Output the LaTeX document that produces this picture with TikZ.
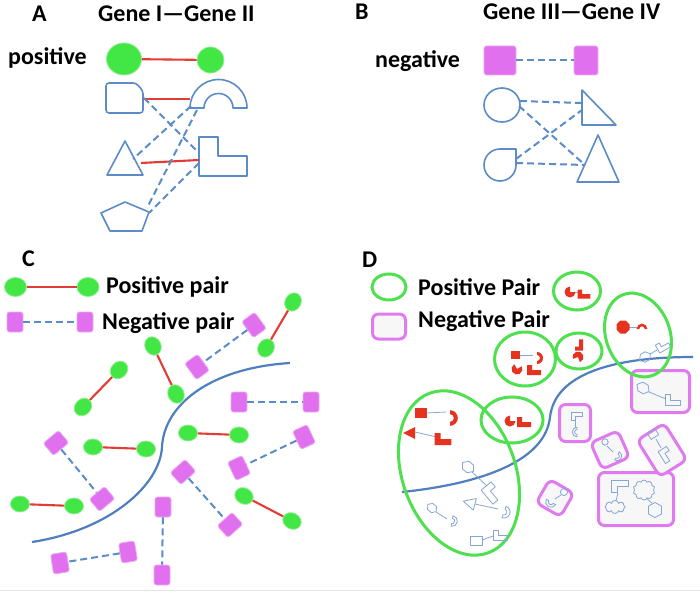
\documentclass[tikz,border=0pt]{standalone}
\usepackage{fontspec}
\setmainfont{Carlito}
\usetikzlibrary{shapes.geometric,shapes.symbols}
\definecolor{bluec}{HTML}{5B8CC8}
\definecolor{curvec}{HTML}{4F7FBF}
\definecolor{redc}{HTML}{E33B36}
\definecolor{greenf}{HTML}{42E645}
\definecolor{greend}{HTML}{4FE04F}
\definecolor{magf}{HTML}{E070EE}
\definecolor{magd}{HTML}{E07BEF}
\definecolor{redf}{HTML}{E53320}
\definecolor{minib}{HTML}{86A6D4}
\tikzset{
  lbl/.style={font=\bfseries\fontsize{24}{28}\selectfont, inner sep=0, anchor=base west},
  gcirc/.style={ellipse, fill=greenf, draw=greenf!60!white, line width=0.8, inner sep=0},
  gpt/.style={gcirc, minimum width=19, minimum height=16},
  mbox/.style={rectangle, rounded corners=2.5, fill=magf, draw=magf!60!white, line width=0.8, inner sep=0},
  mpt/.style={mbox, minimum width=16, minimum height=20},
  redline/.style={draw=redc, line width=2.1},
  negline/.style={draw=bluec, line width=2.0, dash pattern=on 7 off 4},
  outl/.style={draw=bluec, line width=1.6, line join=round},
  sepcurve/.style={draw=curvec, line width=2.2},
  gring/.style={ellipse, draw=greend, line width=3, inner sep=0},
  mring/.style={rectangle, rounded corners=6, draw=magd, line width=3, fill=black!3, inner sep=0},
  redshape/.style={fill=redf},
  blueshape/.style={draw=minib, line width=0.8, line join=round},
  thinlink/.style={draw=minib, line width=0.8},
  bcloud/.style={cloud, cloud puffs=10, draw=minib, line width=0.8, inner sep=0},
  msq/.pic={\path[pic actions] (-5,-4) rectangle (5,4);},
  mL/.pic={\path[pic actions] (-7,-5) -- (-2,-5) -- (-2,0) -- (7,0) -- (7,5) -- (-7,5) -- cycle;},
  mdisc/.pic={\path[pic actions] (0,0) -- (5.5,0) arc[start angle=0,end angle=270,radius=5.5] -- cycle;},
  march/.pic={\path[pic actions] (-6,0) arc[start angle=180,end angle=360,radius=6] -- (3,0) arc[start angle=360,end angle=180,radius=3] -- cycle;},
  mtri/.pic={\path[pic actions] (-7,0) -- (5,-6) -- (5,6) -- cycle;},
  moct/.pic={\path[pic actions] (6.5,2.7) -- (2.7,6.5) -- (-2.7,6.5) -- (-6.5,2.7) -- (-6.5,-2.7) -- (-2.7,-6.5) -- (2.7,-6.5) -- (6.5,-2.7) -- cycle;},
  mdia/.pic={\path[pic actions] (-7,0) -- (-3,-5) -- (3,-5) -- (7,0) -- (3,5) -- (-3,5) -- cycle;},
  mcirc/.pic={\path[pic actions] (0,0) circle[radius=4];},
  mhex/.pic={\path[pic actions] (-4,-6.5) -- (4,-6.5) -- (7.5,0) -- (4,6.5) -- (-4,6.5) -- (-7.5,0) -- cycle;},
}
\begin{document}
\begin{tikzpicture}[x=1pt,y=-1pt]
\useasboundingbox (0,0) rectangle (700,593);
\fill[white] (0,0) rectangle (700,593);
\draw[black!10, line width=0.8] (0,590) -- (700,590);

% ---------------- Panel A ----------------
\node[lbl] (tA) at (32,22) {A};
\node[lbl] (tAg) at (98,22) {Gene I—Gene II};
\node[lbl] (tpos) at (8,65) {positive};
\node[gcirc, minimum width=35, minimum height=32] (ga1) at (124,59) {};
\node[gcirc, minimum width=27, minimum height=26] (ga2) at (210.5,60) {};
\draw[redline] (ga1) -- (ga2);

\draw[outl, rounded corners=3] (106,83) -- (136,83) -- (143,91) -- (143,113) -- (106,113) -- cycle;
\draw[outl] (190,108) arc[start angle=180,end angle=360,radius=28.5] -- (233,108) arc[start angle=360,end angle=180,radius=14.5] -- cycle;
\draw[outl] (107,175) -- (125,141) -- (143,175) -- cycle;
\draw[outl] (199,137) -- (218,137) -- (218,156) -- (247,156) -- (247,176) -- (199,176) -- cycle;
\draw[outl] (125,202) -- (149,212) -- (142,231) -- (110,231) -- (101,213) -- cycle;
\coordinate (rrR) at (143,99);
\coordinate (rrRd) at (144,98);
\coordinate (arL) at (190,99);
\coordinate (arF) at (191,106);
\coordinate (arB) at (197,110);
\coordinate (trR) at (141,163);
\coordinate (trRd) at (133,159);
\coordinate (lsL) at (199,160);
\coordinate (lsT) at (199,153);
\coordinate (lsB) at (199,163);
\coordinate (peA) at (147,208);
\coordinate (peB) at (149,213);
\draw[redline] (rrR) -- (arL);
\draw[redline] (trR) -- (lsL);
\draw[negline] (rrRd) -- (lsT);
\draw[negline] (arF) -- (trRd);
\draw[negline] (arB) -- (peA);
\draw[negline] (lsB) -- (peB);

% ---------------- Panel B ----------------
\node[lbl] (tB) at (355,20) {B};
\node[lbl] (tBg) at (483,20) {Gene III—Gene IV};
\node[lbl] (tneg) at (375,68) {negative};
\node[mbox, minimum width=32, minimum height=29] (mb1) at (500,60.5) {};
\node[mbox, minimum width=24, minimum height=29] (mb2) at (586,60.5) {};
\draw[negline] (mb1) -- (mb2);
\draw[outl] (502,105) ellipse[x radius=18, y radius=17];
\draw[outl] (582,90) -- (582,125) -- (616,125) -- cycle;
\draw[outl] (516,149) -- (516,165) arc[start angle=0,end angle=270,radius=16] -- cycle;
\draw[outl] (577,182) -- (598,135) -- (619,182) -- cycle;
\coordinate (elA) at (520,101);
\coordinate (elB) at (519,106);
\coordinate (rtA) at (581,103);
\coordinate (rtB) at (582,110);
\coordinate (drA) at (516,159);
\coordinate (drB) at (516,163);
\coordinate (itA) at (585,165);
\draw[negline] (elA) -- (rtA);
\draw[negline] (elB) -- (itA);
\draw[negline] (drA) -- (rtB);
\draw[negline] (drB) -- (itA);

% ---------------- Panel C ----------------
\node[lbl] (tC) at (22,266) {C};
\node[lbl] (tCp) at (106,293) {Positive pair};
\node[lbl] (tCn) at (102,329) {Negative pair};
\node[gcirc, minimum width=22, minimum height=19] (cl1) at (15.5,287) {};
\node[gcirc, minimum width=22, minimum height=19] (cl2) at (88,287) {};
\draw[redline] (cl1) -- (cl2);
\node[mpt] (cn1) at (15,322) {};
\node[mpt] (cn2) at (85,322) {};
\draw[negline] (cn1) -- (cn2);

\draw[sepcurve] (32,542) .. controls (110,530) and (160,485) .. (162,447) .. controls (164,405) and (210,368) .. (290,363);

\node[gpt, rotate=60] (p1a) at (293,302) {};
\node[gpt, rotate=60] (p1b) at (266,348) {};
\node[gpt, rotate=-64] (p2a) at (153,346) {};
\node[gpt, rotate=-64] (p2b) at (176,394) {};
\node[gpt, rotate=46] (p3a) at (119,370) {};
\node[gpt, rotate=46] (p3b) at (83,407) {};
\node[gpt, rotate=-2] (p4a) at (93,447) {};
\node[gpt, rotate=-2] (p4b) at (146,449) {};
\node[gpt, rotate=-2] (p5a) at (188,433) {};
\node[gpt, rotate=-2] (p5b) at (239,435) {};
\node[gpt, rotate=-2] (p6a) at (20,504) {};
\node[gpt, rotate=-2] (p6b) at (74,506) {};
\node[gpt, rotate=-28] (p7a) at (244,496) {};
\node[gpt, rotate=-28] (p7b) at (292,521) {};
\foreach \k in {1,...,7} {\draw[redline] (p\k a) -- (p\k b);}

\node[mpt, rotate=36] (n1a) at (254,325) {};
\node[mpt, rotate=36] (n1b) at (197,367) {};
\node[mpt] (n2a) at (239,402) {};
\node[mpt] (n2b) at (311,402) {};
\node[mpt, rotate=25] (n3a) at (304,437) {};
\node[mpt, rotate=25] (n3b) at (239,468) {};
\node[mpt, rotate=-50] (n4a) at (56,443) {};
\node[mpt, rotate=-50] (n4b) at (102,499) {};
\node[mpt, rotate=-48] (n5a) at (183,472) {};
\node[mpt, rotate=-48] (n5b) at (230,525) {};
\node[mpt] (n6a) at (163,507) {};
\node[mpt] (n6b) at (162,575) {};
\node[mpt, rotate=9] (n7a) at (128,552) {};
\node[mpt, rotate=9] (n7b) at (60,563) {};
\foreach \k in {1,...,7} {\draw[negline] (n\k a) -- (n\k b);}

% ---------------- Panel D ----------------
\node[lbl] (tD) at (362,267) {D};
\node[lbl] (tDp) at (418,295) {Positive Pair};
\node[lbl] (tDn) at (418,327) {Negative Pair};
\node[gring, minimum width=34, minimum height=26] (dl1) at (389,287) {};
\node[mring, minimum width=33, minimum height=25] (dl2) at (389,326.5) {};

\draw[sepcurve] (402,492) .. controls (470,485) and (545,465) .. (550,417) .. controls (555,375) and (610,357) .. (693,357);

% negative pair boxes
\node[mring, minimum width=58, minimum height=42] (m1) at (660.5,391.5) {};
\node[mring, minimum width=31, minimum height=37] (m2) at (575,423) {};
\node[mring, minimum width=75, minimum height=53] (m5) at (636,499) {};
\node[mring, minimum width=30, minimum height=29, rotate=24] (m3) at (610,450) {};
\node[mring, minimum width=32, minimum height=43, rotate=32] (m4) at (662,450) {};
\node[mring, minimum width=28, minimum height=27, rotate=-30] (m6) at (555,498) {};

% positive pair ellipses
\node[gring, minimum width=47, minimum height=38] (e1) at (577,291) {};
\node[gring, minimum width=61, minimum height=54] (e2) at (525,359) {};
\node[gring, minimum width=46, minimum height=36] (e3) at (579,351) {};
\node[gring, minimum width=64, minimum height=86, rotate=20] (e4) at (638,335) {};
\node[gring, minimum width=62, minimum height=46] (e5) at (512,420) {};
\node[gring, minimum width=113, minimum height=170, rotate=20] (e6) at (459,473) {};

% red shapes (positive members)
\draw[thinlink] (574,292) -- (579,293);
\pic[redshape] at (570,292) {mdisc};
\pic[redshape, scale=0.9] at (584,294) {mL};
\pic[redshape, scale=0.8, rotate=90] at (579,345) {mL};
\pic[redshape, rotate=200] at (578,357) {mdisc};
\draw[thinlink] (520,355) -- (533,355);
\pic[redshape, scale=0.9] at (515,355) {msq};
\pic[redshape, rotate=-90] at (537,358) {march};
\pic[redshape, rotate=30] at (517,369) {mdisc};
\pic[redshape] at (534,370) {mL};
\draw[thinlink] (629,327) -- (637,327);
\pic[redshape] at (623,327) {moct};
\pic[redshape, scale=0.9] at (642,329) {march};
\pic[redshape] at (510,421) {mdisc};
\pic[redshape] at (524,422) {mL};
\draw[thinlink] (427,413) -- (446,412);
\draw[thinlink] (415,432) -- (437,437);
\pic[redshape, scale=1.2] at (421,413) {msq};
\pic[redshape, rotate=-90, scale=1.3] at (450,418) {march};
\pic[redshape] at (410,433) {mtri};
\pic[redshape, scale=1.2] at (443,439) {mL};

% blue outline shapes (gene members)
\draw[thinlink] (472,472) -- (487,486);
\pic[blueshape, rotate=-40] at (468,467) {mdia};
\pic[blueshape, rotate=-50, scale=1.3] at (492,493) {mL};
\draw[thinlink] (475,504) -- (498,509);
\pic[blueshape, rotate=-15] at (470,503) {mtri};
\pic[blueshape, rotate=-110] at (504,512) {march};
\draw[thinlink] (436,512) -- (447,519);
\pic[blueshape, rotate=-40, scale=0.8] at (432,508) {mdia};
\pic[blueshape, rotate=-100, scale=0.9] at (452,521) {march};
\draw[thinlink] (482,540) -- (493,536);
\pic[blueshape, scale=1.2] at (476,541) {msq};
\pic[blueshape] at (500,535) {mL};

\draw[thinlink] (650,354) -- (657,350);
\pic[blueshape, rotate=30, scale=0.9] at (645,357) {mdia};
\pic[blueshape, rotate=30, scale=0.9] at (663,346) {mL};

\draw[thinlink] (649,392) -- (666,399);
\pic[blueshape, rotate=-30] at (643,388) {mdia};
\pic[blueshape, scale=1.1] at (673,400) {mL};

\draw[thinlink] (575,420) -- (575,428);
\pic[blueshape, scale=0.8, yscale=-1] at (577,416) {mL};
\pic[blueshape, rotate=90, scale=0.8] at (577,432) {march};

\draw[thinlink] (607,446) -- (613,452);
\pic[blueshape, scale=0.8] at (605,442) {mcirc};
\pic[blueshape, rotate=-120, scale=0.8] at (617,456) {march};

\draw[thinlink] (656,439) -- (661,448);
\pic[blueshape, rotate=32, scale=0.9] at (653,434) {msq};
\pic[blueshape, rotate=-58] at (666,455) {mL};

\draw[thinlink] (618,493) -- (616,501);
\pic[blueshape, yscale=-1, scale=1.2] at (620,486) {mL};
\node[bcloud, cloud puffs=8, minimum width=20, minimum height=13] (cb1) at (615,507) {};
\node[bcloud, minimum width=22, minimum height=20] (cb2) at (644,490) {};
\draw[thinlink] (647,499) -- (652,503);
\pic[blueshape, rotate=90] at (655,510) {mhex};

\draw[thinlink] (561,495) -- (555,499);
\pic[blueshape, scale=0.9] at (564,492) {mcirc};
\pic[blueshape, rotate=150, scale=0.9] at (551,502) {march};
\end{tikzpicture}
\end{document}
